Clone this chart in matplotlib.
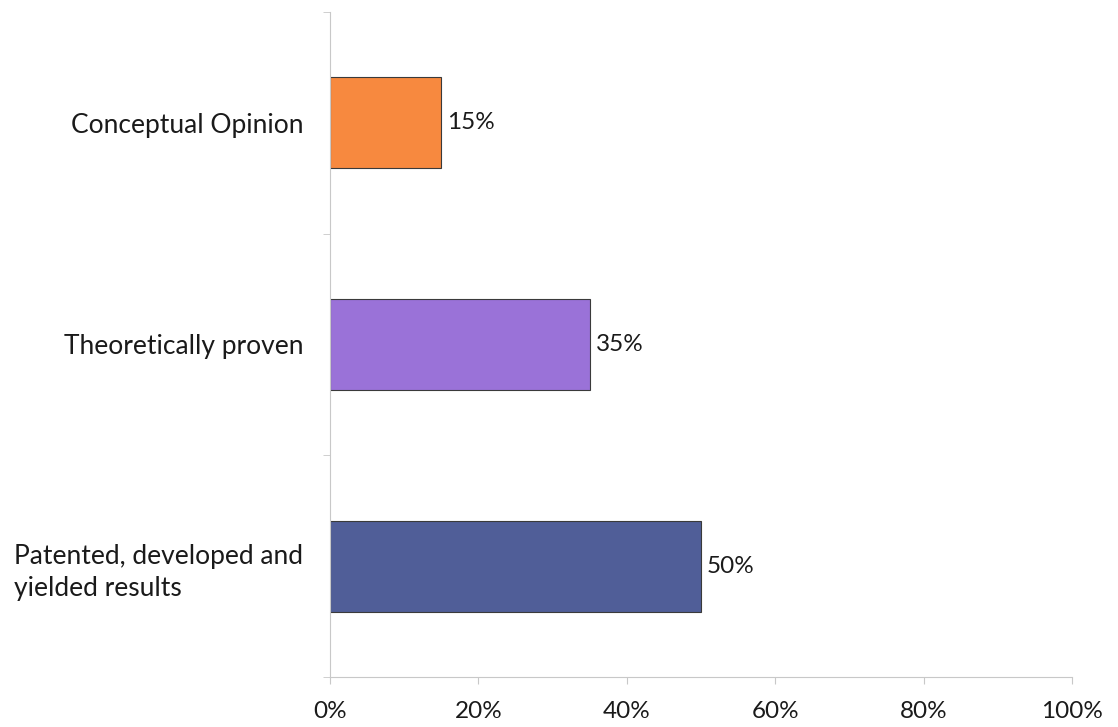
import matplotlib.pyplot as plt
from matplotlib.ticker import FixedLocator, PercentFormatter

# Data
categories = ["Patented, developed and\nyielded results", "Theoretically proven", "Conceptual Opinion"]
values = [50, 35, 15]
colors = ["#505E98", "#9A72D8", "#F7893F"]
x_ticks = [0, 20, 40, 60, 80, 100]

plt.rcParams['font.family'] = ['Lato', 'DejaVu Sans']

fig = plt.figure(figsize=(11.18, 7.27), dpi=100)
ax = fig.add_axes([0.295, 0.0688, 0.664, 0.9147])

pos = list(range(len(categories)))
bars = ax.barh(pos, values, height=0.41, color=colors, edgecolor="#3a3a3a", linewidth=0.8)

for b, v in zip(bars, values):
    ax.text(b.get_width() + 0.8, b.get_y() + b.get_height() / 2, f"{v}%",
            va="center", ha="left", fontsize=17.5, color="#1a1a1a")

ax.set_xlim(0, 100)
ax.set_ylim(-0.5, 2.5)
ax.set_xticks(x_ticks)
ax.xaxis.set_major_formatter(PercentFormatter(decimals=0))
ax.set_yticks(pos)
ax.set_yticklabels(categories)
ax.yaxis.set_minor_locator(FixedLocator([-0.5, 0.5, 1.5, 2.5]))

ax.tick_params(axis="y", which="major", length=0, pad=19, labelsize=19, labelcolor="#1a1a1a")
ax.tick_params(axis="y", which="minor", length=5, color="#c8c8c8")
ax.tick_params(axis="x", length=5, color="#c8c8c8", pad=12, labelsize=17.5, labelcolor="#1a1a1a")
for lab in ax.get_yticklabels():
    lab.set_multialignment("left")
    lab.set_linespacing(1.35)

for s in ["top", "right"]:
    ax.spines[s].set_visible(False)
for s in ["left", "bottom"]:
    ax.spines[s].set_color("#c8c8c8")
    ax.spines[s].set_linewidth(0.8)

plt.savefig("out.png", dpi=100)
